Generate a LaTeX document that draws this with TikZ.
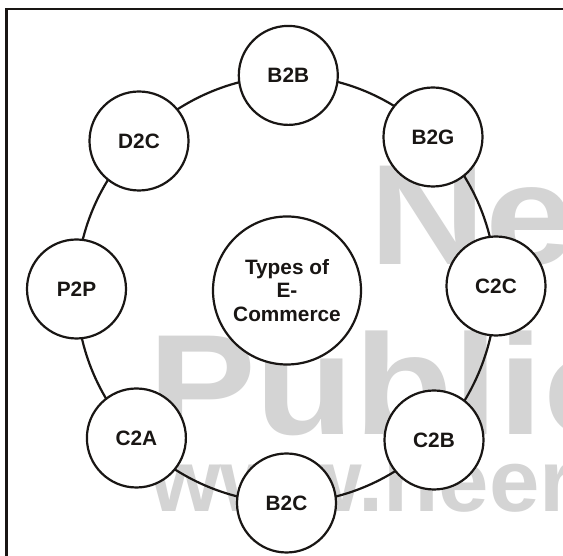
\documentclass[tikz,border=0pt]{standalone}
\usepackage{fontspec}
\setmainfont{Liberation Sans}
\usetikzlibrary{backgrounds}
\definecolor{ink}{RGB}{25,22,20}
\definecolor{wm}{RGB}{212,212,212}
\tikzset{
  item/.style={circle, draw=ink, line width=2.2pt, fill=white, minimum size=99pt,
    inner sep=0pt, text=ink, font=\fontsize{20.8}{23.3}\selectfont\bfseries},
  hub/.style={item, minimum size=148pt, align=center},
  ringarc/.style={draw=ink, line width=2.2pt, bend left=22.5, looseness=0.885},
  wmtext/.style={anchor=base west, inner sep=0pt, text=wm,
    font=\fontsize{143}{143}\selectfont\bfseries},
  framestyle/.style={draw=ink, line width=2.5pt}
}
\begin{document}
\begin{tikzpicture}[x=1pt,y=1pt]
\useasboundingbox (0,0) rectangle (563,556);
\clip (0,0) rectangle (563,556);
\begin{scope}[on background layer]
  \fill[white] (0,0) rectangle (563,556);
  \node[wmtext] (wm1) at (369,291) {\scalebox{1.13}[1]{Ne}};
  \node[wmtext] (wm2) at (148,121) {\scalebox{1.13}[1]{Public}};
  \node[wmtext, font=\fontsize{88}{88}\selectfont\bfseries] (wm3) at (150,44) {\scalebox{1.03}[1]{www.neer}};
\end{scope}
\draw[framestyle] (6.7,-20) -- (6.7,547) -- (600,547);
\node[item] (b2b) at (288.3,480.6) {B2B};
\node[item] (b2g) at (433,419) {B2G};
\node[item] (c2c) at (496,270) {C2C};
\node[item] (c2b) at (434,116) {C2B};
\node[item] (b2c) at (286.5,53) {B2C};
\node[item] (c2a) at (136.4,118) {C2A};
\node[item] (p2p) at (76.5,267) {P2P};
\node[item] (d2c) at (139,415) {D2C};
\node[hub] (hub) at (287,265.5) {Types of\\E-\\Commerce};
\begin{scope}[on background layer]
  \draw[ringarc] (b2b.center) to (b2g.center);
  \draw[ringarc] (b2g.center) to (c2c.center);
  \draw[ringarc] (c2c.center) to (c2b.center);
  \draw[ringarc] (c2b.center) to (b2c.center);
  \draw[ringarc] (b2c.center) to (c2a.center);
  \draw[ringarc] (c2a.center) to (p2p.center);
  \draw[ringarc] (p2p.center) to (d2c.center);
  \draw[ringarc] (d2c.center) to (b2b.center);
\end{scope}
\end{tikzpicture}
\end{document}
